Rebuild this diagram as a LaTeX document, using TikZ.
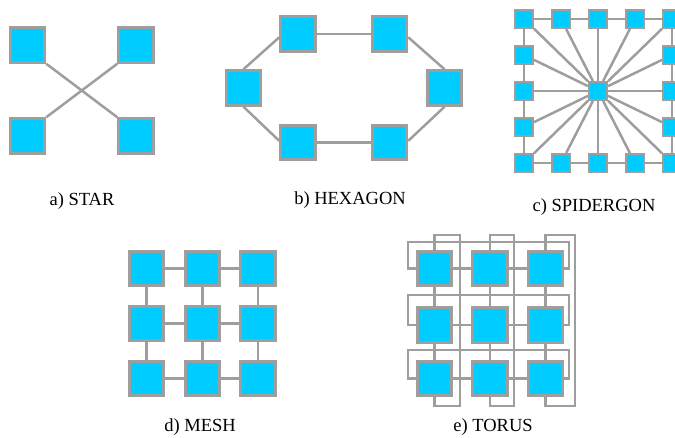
\documentclass[tikz,border=0pt]{standalone}
\usepackage{fontspec}
\setmainfont{Liberation Serif}
\definecolor{nodefill}{RGB}{0,204,255}
\definecolor{linkgray}{RGB}{158,158,158}
\begin{document}
\begin{tikzpicture}[x=1pt,y=-1pt,
  router/.style={rectangle,draw=linkgray,fill=nodefill,line width=3pt,minimum size=34.5pt,inner sep=0pt},
  small/.style={rectangle,draw=linkgray,fill=nodefill,line width=2.4pt,minimum size=17.6pt,inner sep=0pt},
  link/.style={draw=linkgray,line width=2.5pt},
  caption/.style={font=\fontsize{18.5}{20}\selectfont,anchor=base,inner sep=0pt}]
\useasboundingbox (0,0) rectangle (675,437);

% a) STAR
\node[router] (sa) at (27.5,45) {};
\node[router] (sb) at (136,45) {};
\node[router] (sc) at (27.5,136) {};
\node[router] (sd) at (136,136) {};
\draw[link] (sa.south east) -- (sd.north west);
\draw[link] (sb.south west) -- (sc.north east);
\node[caption] (capa) at (82,205) {a) STAR};

% b) HEXAGON
\node[router] (h1) at (298,34) {};
\node[router] (h2) at (389.5,34) {};
\node[router] (h3) at (444.5,88) {};
\node[router] (h4) at (389.5,142.5) {};
\node[router] (h5) at (298,142.5) {};
\node[router] (h6) at (243.5,88) {};
\draw[link] (h1.east) -- (h2.west);
\draw[link] (h2.-10) -- (h3.north);
\draw[link] (h3.south) -- (h4.5);
\draw[link] (h4.west) -- (h5.east);
\draw[link] (h5.175) -- (h6.south);
\draw[link] (h6.north) -- (h1.190);
\node[caption] (capb) at (350,204) {b) HEXAGON};

% c) SPIDERGON
\node[small] (c) at (598,91) {};
\foreach \i in {0,...,4} {
  \node[small] (t\i) at (524+37*\i,19) {};
  \node[small] (b\i) at (524+37*\i,163) {};
}
\foreach \j in {1,2,3} {
  \node[small] (l\j) at (524,19+36*\j) {};
  \node[small] (r\j) at (672,19+36*\j) {};
}
\foreach \i/\k in {0/1,1/2,2/3,3/4} {
  \draw[link] (t\i) -- (t\k);
  \draw[link] (b\i) -- (b\k);
}
\draw[link] (t0) -- (l1) -- (l2) -- (l3) -- (b0);
\draw[link] (t4) -- (r1) -- (r2) -- (r3) -- (b4);
\foreach \n in {t0,t1,t2,t3,t4,b0,b1,b2,b3,b4,l1,l2,l3,r1,r2,r3}
  \draw[link] (c) -- (\n);
\node[caption] (capc) at (594,211) {c) SPIDERGON};

% d) MESH
\foreach \cc/\x in {1/146.5,2/202.5,3/258}
  \foreach \rr/\y in {1/268.5,2/323.5,3/378.5}
    \node[router] (m\rr\cc) at (\x,\y) {};
\foreach \rr in {1,2,3} {
  \draw[link] (m\rr1) -- (m\rr2);
  \draw[link] (m\rr2) -- (m\rr3);
  \draw[link] (m1\rr) -- (m2\rr);
  \draw[link] (m2\rr) -- (m3\rr);
}
\node[caption] (capd) at (200,431) {d) MESH};

% e) TORUS
\foreach \cc/\x in {1/434.5,2/490,3/545.5}
  \foreach \rr/\y in {1/268.5,2/325,3/378.5}
    \node[router] (q\rr\cc) at (\x,\y) {};
\foreach \rr in {1,2,3} {
  \draw[link] (q\rr1) -- (q\rr2);
  \draw[link] (q\rr2) -- (q\rr3);
  \draw[link] (q1\rr) -- (q2\rr);
  \draw[link] (q2\rr) -- (q3\rr);
}
\foreach \rr/\yh/\yc in {1/242/268.5,2/295/325,3/350/378.5}
  \draw[link] (q\rr1.west) -| (408,\yh) -| (569,\yc) -- (q\rr3.east);
\foreach \cc/\xc/\xr in {1/434.5/460,2/490/514,3/545.5/575}
  \draw[link] (q1\cc.north) |- (\xr,235) |- (\xc,406) -- (q3\cc.south);
\node[caption] (cape) at (493,431) {e) TORUS};
\end{tikzpicture}
\end{document}
